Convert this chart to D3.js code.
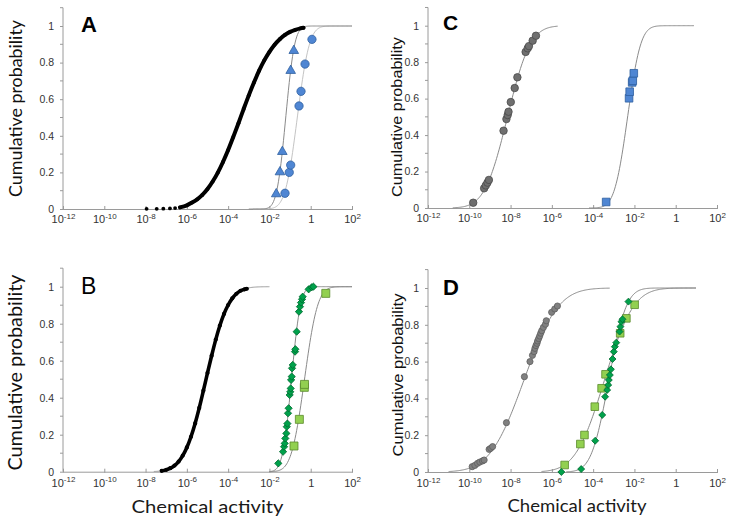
<!DOCTYPE html>
<html><head><meta charset="utf-8">
<script src="https://cdn.jsdelivr.net/npm/d3@7"></script>
<style>body{margin:0;background:#fff}svg{display:block}</style>
</head><body><svg id="c" width="733" height="524"></svg>
<script>
// ---------- data (log10 chemical activity, cumulative probability) ----------
const xTickExps = [-12, -10, -8, -6, -4, -2, 0, 2];
const yTickVals = [0, 0.2, 0.4, 0.6, 0.8, 1];
const yTickLabels = ["0", "0.2", "0.4", "0.6", "0.8", "1"];
const yMinorVals = [0.1, 0.3, 0.5, 0.7, 0.9, 1.1];
const panelLetters = ["A", "B", "C", "D"];
const yTitle = "Cumulative probability";
const xTitle = "Chemical activity";

// Panel A
const aBlack = [[-7.95,0.001],[-7.46,0.001],[-7.14,0.002],[-6.82,0.003],[-6.57,0.005],[-6.33,0.009],[-6.0,0.02],[-5.75,0.035],[-5.5,0.053],[-5.25,0.077],[-5.0,0.109],[-4.75,0.15],[-4.5,0.199],[-4.25,0.257],[-4.0,0.322],[-3.75,0.394],[-3.5,0.469],[-3.25,0.546],[-3.0,0.621],[-2.75,0.691],[-2.5,0.756],[-2.25,0.812],[-2.0,0.859],[-1.75,0.898],[-1.5,0.928],[-1.25,0.951],[-1.0,0.968],[-0.75,0.979],[-0.5,0.987],[-0.35,0.99]];
const aTriangles = [[-1.67,0.082],[-1.49,0.202],[-1.375,0.313],[-0.97,0.756],[-0.82,0.865]];
const aCircles = [[-1.245,0.086],[-1.04,0.2],[-0.97,0.24],[-0.566,0.563],[-0.47,0.643],[-0.275,0.792],[0.06,0.927]];
// fits: [median(log10), sd(log10), from, to]
const aFitTriangles = [-1.21, 0.34, -3.0, 2.0];
const aFitCircles = [-0.65, 0.46, -2.8, 2.0];

// Panel B
const bBlack = [[-7.22,0.005],[-7.0,0.01],[-6.8,0.019],[-6.6,0.033],[-6.4,0.055],[-6.2,0.087],[-6.0,0.131],[-5.8,0.189],[-5.6,0.261],[-5.4,0.345],[-5.2,0.438],[-5.0,0.534],[-4.8,0.627],[-4.6,0.714],[-4.4,0.79],[-4.2,0.853],[-4.0,0.901],[-3.8,0.937],[-3.6,0.962],[-3.4,0.978],[-3.2,0.986],[-3.1,0.989]];
const bDiamonds = [[-1.57,0.045],[-1.34,0.108],[-1.29,0.135],[-1.26,0.153],[-1.23,0.18],[-1.18,0.207],[-1.16,0.243],[-1.13,0.26],[-1.10,0.316],[-1.07,0.343],[-1.02,0.415],[-0.99,0.432],[-0.97,0.45],[-0.95,0.496],[-0.92,0.514],[-0.905,0.559],[-0.87,0.577],[-0.76,0.649],[-0.745,0.662],[-0.68,0.757],[-0.57,0.865],[-0.52,0.892],[-0.47,0.914],[-0.42,0.932],[-0.39,0.946],[-0.10,0.986],[0.05,0.997],[0.13,1.0]];
const bSquares = [[-0.81,0.139],[-0.55,0.283],[-0.31,0.456],[-0.30,0.472],[0.73,0.964]];
const bFitBlack = [-5.07, 0.83, -7.6, -2.0];
const bFitDiamonds = [-0.93, 0.34, -2.0, 2.0];
const bFitSquares = [-0.30, 0.50, -2.0, 2.0];

// Panel C
const cCircles = [[-9.81,0.029],[-9.28,0.108],[-9.20,0.124],[-9.12,0.139],[-9.05,0.154],[-8.34,0.424],[-8.20,0.488],[-8.14,0.51],[-8.10,0.528],[-7.99,0.581],[-7.80,0.658],[-7.67,0.717],[-7.27,0.856],[-7.17,0.876],[-7.11,0.888],[-6.93,0.918],[-6.77,0.945]];
const cSquares = [[-3.37,0.033],[-2.26,0.602],[-2.23,0.638],[-2.11,0.689],[-2.08,0.698],[-2.03,0.739]];
const cFitCircles = [-8.15, 0.87, -10.8, -5.7];
const cFitSquares = [-2.33, 0.50, -4.2, 0.9];

// Panel D
const dCircles = [[-9.86,0.029],[-9.73,0.036],[-9.60,0.047],[-9.49,0.054],[-9.36,0.06],[-9.28,0.065],[-9.04,0.123],[-8.96,0.129],[-8.87,0.138],[-8.20,0.268],[-7.33,0.518],[-7.06,0.60],[-6.94,0.634],[-6.86,0.654],[-6.82,0.672],[-6.77,0.687],[-6.72,0.699],[-6.69,0.712],[-6.64,0.725],[-6.59,0.739],[-6.54,0.754],[-6.49,0.768],[-6.41,0.786],[-6.31,0.803],[-6.27,0.822],[-6.01,0.868],[-5.86,0.886],[-5.73,0.902]];
const dDiamonds = [[-5.54,0.0],[-4.58,0.016],[-3.90,0.17],[-3.56,0.31],[-3.42,0.409],[-3.32,0.446],[-3.27,0.473],[-3.24,0.5],[-3.19,0.527],[-3.14,0.558],[-3.06,0.614],[-3.0,0.654],[-2.95,0.681],[-2.88,0.703],[-2.72,0.763],[-2.68,0.79],[-2.63,0.817],[-2.58,0.83],[-2.29,0.926]];
const dSquares = [[-5.38,0.038],[-4.62,0.152],[-4.42,0.201],[-3.92,0.355],[-3.59,0.455],[-3.40,0.531],[-2.69,0.754],[-2.39,0.835],[-1.99,0.909]];
const dFitCircles = [-7.35, 1.30, -11.0, -3.2];
const dFitDiamonds = [-3.24, 0.66, -5.3, 1.0];
const dFitSquares = [-3.45, 1.10, -6.5, 1.0];

// ---------- helpers ----------
function erf(x){const s=Math.sign(x);x=Math.abs(x);const t=1/(1+0.3275911*x);
  const y=1-(((((1.061405429*t-1.453152027)*t)+1.421413741)*t-0.284496736)*t+0.254829592)*t*Math.exp(-x*x);return s*y;}
const ncdf = z => 0.5*(1+erf(z/Math.SQRT2));
function fitPoints(f){const [mu,sd,lo,hi]=f;const pts=[];for(let v=lo;v<=hi+1e-9;v+=0.04)pts.push([v,ncdf((v-mu)/sd)]);return pts;}

const svg = d3.select("#c");
const STY = {
  blue:{fill:"#4f86d3",stroke:"#2f5f9f"},
  grayC:{fill:"#6f6f6f",stroke:"#4a4a4a"},
  grayD:{fill:"#808080",stroke:"#5e5e5e"},
  green:{fill:"#00a14b",stroke:"#006b30"},
  lime:{fill:"#92d050",stroke:"#5b8a2c"}
};

function panel(p){
  const g = svg.append("g");
  const x = d3.scaleLog().domain([1e-12,1e2]).range([p.x0,p.x1]);
  const y = d3.scaleLinear().domain([0,1.1]).range([p.yb, p.yb-(p.yb-p.y1)*1.1]);
  // axes
  const ax = g.append("g").attr("transform",`translate(0,${p.yb})`)
    .call(d3.axisBottom(x).tickValues(xTickExps.map(e=>Math.pow(10,e))).tickSize(0).tickPadding(13).tickFormat(""));
  ax.select(".domain").attr("stroke","#9a9a9a");
  ax.selectAll(".tick line").attr("y1",-3).attr("y2",1).attr("stroke","#9a9a9a");
  ax.selectAll(".tick text").each(function(d,i){
    const t=d3.select(this).attr("font-family","Liberation Sans, Arial, sans-serif").attr("font-size",11).attr("fill","#333").attr("dy",0).attr("y",p.xly);
    const e=xTickExps[i];
    if(e===0){t.text("1");}
    else{t.append("tspan").text("10");t.append("tspan").attr("font-size",8).attr("dy",-4.5).text(String(e));}
  });
  const ay = g.append("g").attr("transform",`translate(${p.x0},0)`)
    .call(d3.axisLeft(y).tickValues(yTickVals).tickSize(3).tickPadding(6).tickFormat((d,i)=>yTickLabels[i]));
  ay.select(".domain").attr("stroke","#9a9a9a").attr("d",`M0,${y(1.1)}V${y(0)}`);
  ay.selectAll(".tick line").attr("stroke","#9a9a9a");
  ay.selectAll(".tick text").attr("font-family","Liberation Sans, Arial, sans-serif").attr("font-size",10.5).attr("fill","#333");
  g.append("g").selectAll("line").data(yMinorVals).join("line")
    .attr("x1",p.x0-3).attr("x2",p.x0).attr("y1",d=>y(d)).attr("y2",d=>y(d)).attr("stroke","#9a9a9a");

  const line = d3.line().x(d=>x(Math.pow(10,d[0]))).y(d=>y(d[1]));
  // fit lines
  p.fits.forEach(f=>{
    g.append("path").attr("d",line(fitPoints(f.params))).attr("fill","none").attr("stroke",f.color).attr("stroke-width",f.w||1);
  });
  // dense black series
  if(p.black){
    const lc = d3.line().x(d=>x(Math.pow(10,d[0]))).y(d=>y(d[1])).curve(d3.curveMonotoneX);
    const cont = p.black.filter(d=>d[0]>=p.blackFrom);
    g.append("path").attr("d",lc(cont)).attr("fill","none").attr("stroke","#000").attr("stroke-width",p.blackW).attr("stroke-linecap","round");
    g.append("g").selectAll("circle").data(p.black).join("circle")
      .attr("cx",d=>x(Math.pow(10,d[0]))).attr("cy",d=>y(d[1])).attr("r",p.blackR).attr("fill","#000");
  }
  // markers
  p.series.forEach(s=>{
    const sym = d3.symbol().type(s.type).size(s.size);
    g.append("g").selectAll("path").data(s.data).join("path")
      .attr("d",sym)
      .attr("transform",d=>`translate(${x(Math.pow(10,d[0]))},${y(d[1])})${s.rot?" rotate(45)":""}`)
      .attr("fill",s.sty.fill).attr("stroke",s.sty.stroke).attr("stroke-width",0.8);
  });
  // letter
  g.append("text").attr("x",p.lx).attr("y",p.ly).text(p.letter)
    .attr("font-family","Liberation Sans, Arial, sans-serif").attr("font-size",p.lsize).attr("font-weight",p.lbold?"bold":"normal").attr("fill","#000");
  // y title
  g.append("text").attr("transform",`translate(${p.ytx},${p.yty}) rotate(-90)`).attr("text-anchor","middle")
    .attr("dominant-baseline","central")
    .attr("font-family",p.yfont).attr("font-size",p.yfs).attr("fill","#111")
    .attr("textLength",p.ylen).attr("lengthAdjust","spacingAndGlyphs").text(yTitle);
  if(p.xtx){
    g.append("text").attr("x",p.xtx).attr("y",p.xty).attr("text-anchor","middle")
      .attr("font-family","Lato, Open Sans, sans-serif").attr("font-size",p.xfs).attr("fill","#1a1a1a")
      .attr("textLength",p.xlen).attr("lengthAdjust","spacingAndGlyphs").text(xTitle);
  }
}

panel({x0:63,x1:352,yb:209,y1:26,xly:14,letter:panelLetters[0],lx:81,ly:31.5,lsize:22,lbold:true,
  ytx:15,yty:108.5,yfont:"Lato, sans-serif",yfs:17,ylen:177,
  fits:[{params:aFitCircles,color:"#c4c4c4"},{params:aFitTriangles,color:"#8a8a8a"}],
  black:aBlack,blackFrom:-6.4,blackW:4,blackR:1.9,
  series:[{data:aTriangles,type:d3.symbolTriangle,size:40,sty:STY.blue},{data:aCircles,type:d3.symbolCircle,size:54,sty:STY.blue}]});

panel({x0:63,x1:352,yb:471.7,y1:286.7,xly:15,letter:panelLetters[1],lx:81,ly:293.5,lsize:23,lbold:false,
  ytx:14,yty:372.5,yfont:"Lato, sans-serif",yfs:19,ylen:196,xtx:207.5,xty:513,xfs:18,xlen:152,
  fits:[{params:bFitBlack,color:"#9a9a9a"},{params:bFitSquares,color:"#8a8a8a"},{params:bFitDiamonds,color:"#8a8a8a"}],
  black:bBlack,blackFrom:-7.3,blackW:3.6,blackR:2.1,
  series:[{data:bSquares,type:d3.symbolSquare,size:64,sty:STY.lime},{data:bDiamonds,type:d3.symbolSquare,size:26,rot:true,sty:STY.green}]});

panel({x0:428,x1:717,yb:208,y1:25.7,xly:14,letter:panelLetters[2],lx:443,ly:30,lsize:21,lbold:true,
  ytx:397,yty:117,yfont:"Liberation Sans, Arial, sans-serif",yfs:14,ylen:160,
  fits:[{params:cFitCircles,color:"#8a8a8a"},{params:cFitSquares,color:"#8a8a8a"}],
  series:[{data:cCircles,type:d3.symbolCircle,size:44,sty:STY.grayC},{data:cSquares,type:d3.symbolSquare,size:58,sty:STY.blue}]});

panel({x0:428,x1:717,yb:472,y1:288,xly:15,letter:panelLetters[3],lx:443,ly:295,lsize:22,lbold:true,
  ytx:398,yty:375,yfont:"Liberation Sans, Arial, sans-serif",yfs:14.5,ylen:163,xtx:577,xty:512,xfs:17,xlen:139,
  fits:[{params:dFitCircles,color:"#8a8a8a"},{params:dFitSquares,color:"#8a8a8a"},{params:dFitDiamonds,color:"#8a8a8a"}],
  series:[{data:dCircles,type:d3.symbolCircle,size:30,sty:STY.grayD},{data:dSquares,type:d3.symbolSquare,size:58,sty:STY.lime},{data:dDiamonds,type:d3.symbolSquare,size:24,rot:true,sty:STY.green}]});
</script></body></html>
